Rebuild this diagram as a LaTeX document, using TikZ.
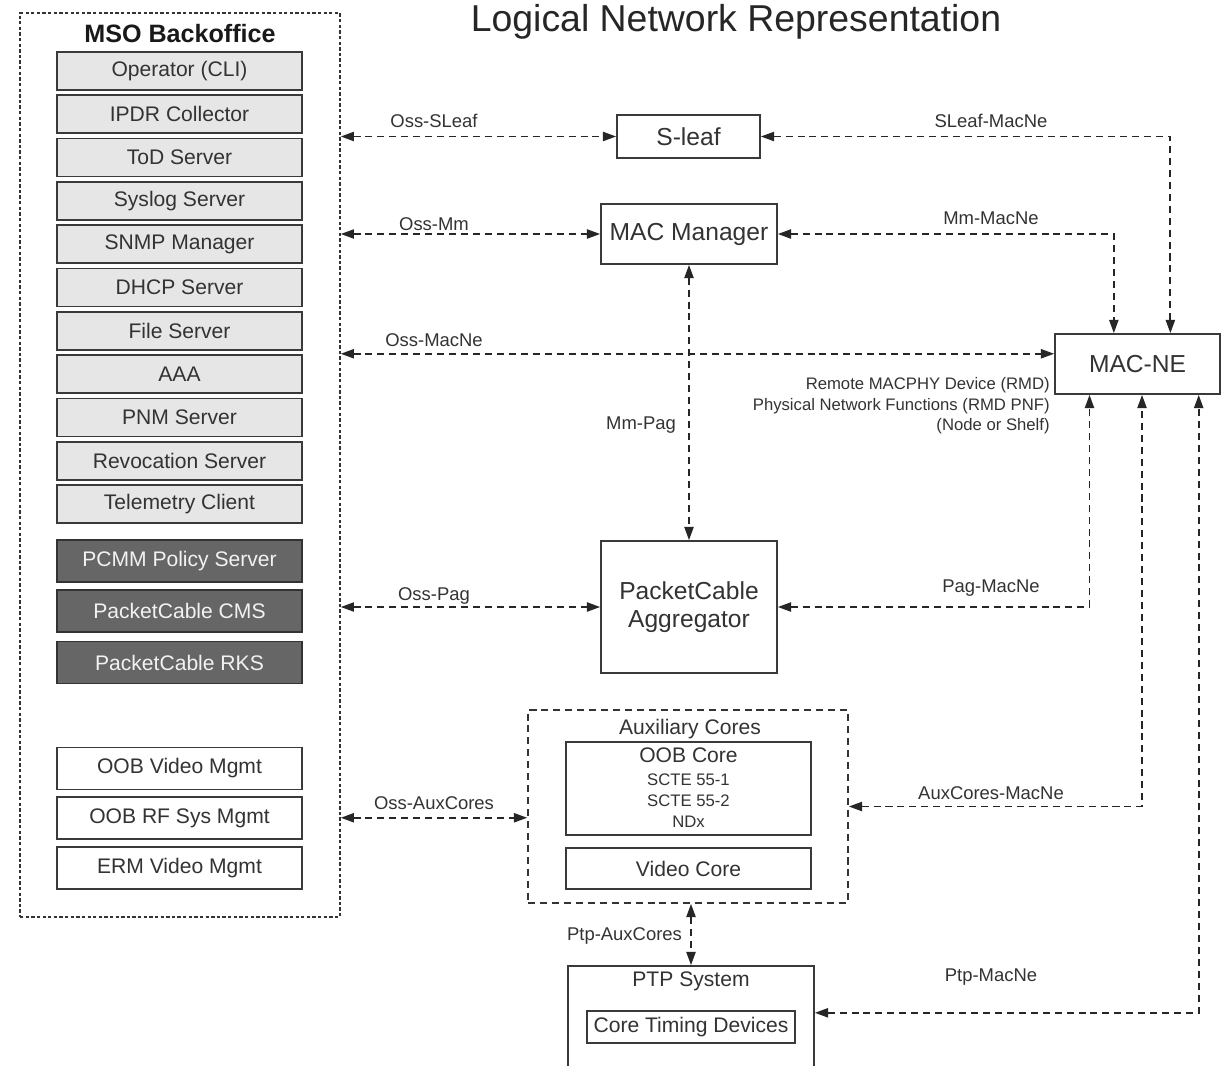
\documentclass[tikz,border=0pt]{standalone}
\usepackage{fontspec}
\setmainfont{Liberation Sans}
\usetikzlibrary{arrows.meta,calc}
\definecolor{ink}{HTML}{333333}
\definecolor{edgeclr}{HTML}{3A3A3A}
\definecolor{lightbox}{HTML}{E6E6E6}
\definecolor{darkbox}{HTML}{666666}
\definecolor{darktext}{HTML}{F2F2F2}
\begin{document}
\begin{tikzpicture}[x=0.02cm,y=-0.02cm,
  box/.style={draw=edgeclr, line width=1pt, inner sep=0pt, align=center, text=ink},
  srv/.style={box, fill=lightbox, minimum width=4.9cm, minimum height=0.76cm, font=\fontsize{12}{14}\selectfont},
  srvdark/.style={srv, fill=darkbox, draw=black!80, text=darktext, minimum height=0.84cm},
  srvwhite/.style={srv, fill=white, minimum height=0.84cm},
  bigbox/.style={box, fill=white, font=\fontsize{14}{17}\selectfont},
  midtext/.style={text=ink, inner sep=0pt, font=\fontsize{12}{14}\selectfont},
  link/.style={draw=black!85, line width=1pt, dash pattern=on 4pt off 2.8pt,
    >={Triangle[length=7.5pt,width=5.2pt]}, <->},
  lbl/.style={text=ink, inner sep=1pt, font=\fontsize{10.5}{12}\selectfont}]
\useasboundingbox (0,0) rectangle (1222,1065);
\clip (0,0) rectangle (1222,1065);
\fill[white] (0,0) rectangle (1222,1065);

% title
\node[text=black!85, inner sep=0pt, font=\fontsize{21.3}{25}\selectfont] (title) at (736,22) {Logical Network Representation};

% back office group
\node[draw=black!80, line width=0.9pt, dash pattern=on 1.9pt off 1.3pt,
      minimum width=6.4cm, minimum height=18.08cm, inner sep=0pt] (mso) at (180,465) {};
\node[text=black!90, inner sep=0pt, font=\fontsize{14.3}{17}\selectfont\bfseries] (msotitle) at (180,34) {MSO Backoffice};
\node[srv] (op)   at (179.5,71)    {Operator (CLI)};
\node[srv] (ipdr) at (179.5,114.3) {IPDR Collector};
\node[srv] (tod)  at (179.5,157.6) {ToD Server};
\node[srv] (sysl) at (179.5,200.9) {Syslog Server};
\node[srv] (snmp) at (179.5,244.2) {SNMP Manager};
\node[srv] (dhcp) at (179.5,287.5) {DHCP Server};
\node[srv] (file) at (179.5,330.8) {File Server};
\node[srv] (aaa)  at (179.5,374.1) {AAA};
\node[srv] (pnm)  at (179.5,417.4) {PNM Server};
\node[srv] (revo) at (179.5,460.7) {Revocation Server};
\node[srv] (tele) at (179.5,504)   {Telemetry Client};
\node[srvdark] (pcmm) at (179.5,561)   {PCMM Policy Server};
\node[srvdark] (cms)  at (179.5,611)   {PacketCable CMS};
\node[srvdark] (rks)  at (179.5,662.5) {PacketCable RKS};
\node[srvwhite] (oobv) at (179.5,768.5) {OOB Video Mgmt};
\node[srvwhite] (oobr) at (179.5,818)   {OOB RF Sys Mgmt};
\node[srvwhite] (erm)  at (179.5,868)   {ERM Video Mgmt};

% network elements
\node[bigbox, minimum width=2.86cm, minimum height=0.86cm] (sleaf) at (688.5,136.5) {S-leaf};
\node[bigbox, minimum width=3.52cm, minimum height=1.2cm] (mm) at (689,234) {MAC Manager};
\node[bigbox, minimum width=3.52cm, minimum height=2.64cm] (pag) at (689,607) {PacketCable\\[-1pt]Aggregator};
\node[bigbox, minimum width=3.3cm, minimum height=1.2cm] (macne) at (1137.5,364) {MAC-NE};
\node[text=ink, inner sep=0pt, anchor=east, align=right, font=\fontsize{9.5}{11.7}\selectfont] (rmdnote) at (1050,406)
  {Remote MACPHY Device (RMD)\\Physical Network Functions (RMD PNF)\\(Node or Shelf)};

% auxiliary cores group
\node[draw=black!80, line width=1pt, dash pattern=on 4pt off 2.8pt,
      minimum width=6.4cm, minimum height=3.86cm, inner sep=0pt] (aux) at (688,806.5) {};
\node[midtext] (auxtitle) at (690,729) {Auxiliary Cores};
\node[box, minimum width=4.9cm, minimum height=1.86cm] (oob) at (688.5,788.5) {};
\node[midtext] (oobtitle) at (688.5,755) {OOB Core};
\node[text=ink, inner sep=0pt, align=center, font=\fontsize{9.5}{11.9}\selectfont] (oobitems) at (688.5,801)
  {SCTE 55-1\\SCTE 55-2\\NDx};
\node[box, minimum width=4.9cm, minimum height=0.82cm, font=\fontsize{12}{14}\selectfont] (video) at (688.5,868.5) {Video Core};

% timing system
\node[box, minimum width=4.92cm, minimum height=2.48cm] (ptp) at (691,1028) {};
\node[midtext] (ptptitle) at (691,981) {PTP System};
\node[box, minimum width=4.16cm, minimum height=0.64cm, font=\fontsize{12}{14}\selectfont] (ctd) at (691,1027) {Core Timing Devices};

% anchor points on the MAC-NE border
\coordinate (mnTopA) at ($(macne.north west)!0.358!(macne.north east)$);
\coordinate (mnTopB) at ($(macne.north west)!0.697!(macne.north east)$);
\coordinate (mnBotA) at ($(macne.south west)!0.212!(macne.south east)$);
\coordinate (mnBotB) at ($(macne.south west)!0.527!(macne.south east)$);
\coordinate (mnBotC) at ($(macne.south west)!0.867!(macne.south east)$);

% interfaces from the back office
\draw[link] (mso.east |- sleaf.west) -- (sleaf.west);
\draw[link] (mso.east |- mm.west) -- (mm.west);
\draw[link] (mso.east |- macne.173) -- (macne.173);
\draw[link] (mso.east |- pag.west) -- (pag.west);
\draw[link] (mso.east |- aux.184) -- (aux.184);
\node[lbl] (lOssSLeaf) at (434,121) {Oss-SLeaf};
\node[lbl] (lOssMm)    at (434,224) {Oss-Mm};
\node[lbl] (lOssMacNe) at (434,340) {Oss-MacNe};
\node[lbl] (lOssPag)   at (434,596) {Oss-Pag};
\node[lbl] (lOssAux)   at (434,803) {Oss-AuxCores};

% interfaces to the MAC-NE
\draw[link] (sleaf.east) -| (mnTopB);
\draw[link] (mm.east) -| (mnTopA);
\draw[link] (pag.east) -| (mnBotA);
\draw[link] (aux.east) -| (mnBotB);
\draw[link] (ptp.7) -| (mnBotC);
\node[lbl] (lSLeafMacNe) at (991,121) {SLeaf-MacNe};
\node[lbl] (lMmMacNe)    at (991,218) {Mm-MacNe};
\node[lbl] (lPagMacNe)   at (991,588) {Pag-MacNe};
\node[lbl] (lAuxMacNe)   at (991,793) {AuxCores-MacNe};
\node[lbl] (lPtpMacNe)   at (991,977) {Ptp-MacNe};

% vertical interfaces
\draw[link] (mm.south) -- (pag.north);
\node[lbl] (lMmPag) at (641,425) {Mm-Pag};
\draw[link] (aux.south -| ptp.north) -- (ptp.north);
\node[lbl, anchor=east] (lPtpAux) at (684,936) {Ptp-AuxCores};
\end{tikzpicture}
\end{document}
